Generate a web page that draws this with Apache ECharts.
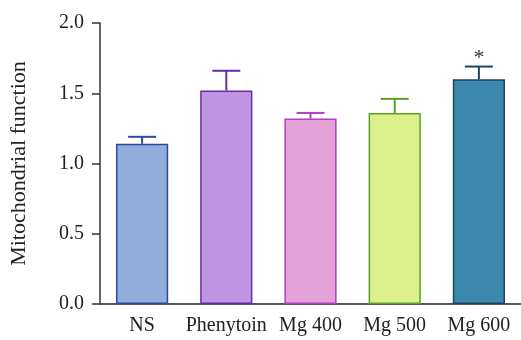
<!DOCTYPE html>
<html><head><meta charset="utf-8">
<script src="https://cdn.jsdelivr.net/npm/echarts@6/dist/echarts.min.js"></script>
<style>html,body{margin:0;padding:0;background:#fff}#c{width:521px;height:340px}</style>
</head><body><div id="c"></div>
<script>
const categories = ["NS", "Phenytoin", "Mg 400", "Mg 500", "Mg 600"];
const means = [1.14, 1.52, 1.32, 1.36, 1.60];
const errors = [0.05, 0.14, 0.04, 0.10, 0.09];
const significance = ["", "", "", "", "*"];
const yTicks = [0, 0.5, 1.0, 1.5, 2.0];
const fills = ["#92acdc", "#bf94e0", "#e5a2d9", "#dcf08c", "#3a88ad"];
const borders = ["#2f4a9a", "#6a2aa8", "#b040c0", "#5aa02a", "#1f435e"];

const FONT = "'Liberation Serif', 'Times New Roman', serif";
const chart = echarts.init(document.getElementById('c'), null, {renderer: 'canvas'});
chart.setOption({
  animation: false,
  grid: {left: 100, right: -1, top: 23, bottom: 36},
  xAxis: {
    type: 'category', data: categories,
    axisLine: {lineStyle: {color: '#555', width: 2}},
    axisTick: {alignWithLabel: true, length: 8, lineStyle: {color: '#333', width: 2}},
    axisLabel: {color: '#222', fontFamily: FONT, fontSize: 20, margin: 12, interval: 0}
  },
  yAxis: {
    type: 'value', min: yTicks[0], max: yTicks[yTicks.length - 1], interval: 0.5,
    name: 'Mitochondrial function', nameLocation: 'middle', nameGap: 70,
    nameTextStyle: {color: '#222', fontFamily: FONT, fontSize: 22},
    axisLine: {show: true, lineStyle: {color: '#333', width: 1.5}},
    axisTick: {show: true, length: 8, lineStyle: {color: '#333', width: 1.5}},
    splitLine: {show: false},
    axisLabel: {color: '#222', fontFamily: FONT, fontSize: 20, margin: 16,
      formatter: v => v.toFixed(1)}
  },
  series: [{
    type: 'bar', barWidth: '62%',
    data: means.map((v, i) => ({value: v, itemStyle: {color: fills[i], borderColor: borders[i], borderWidth: 1.5}})),
    z: 2
  }, {
    type: 'custom', z: 3,
    data: means.map((v, i) => [i, v, errors[i], significance[i]]),
    renderItem: function (params, api) {
      const i = api.value(0);
      const top = api.coord([i, api.value(1)]);
      const hi = api.coord([i, api.value(1) + api.value(2)]);
      const half = 14;
      const col = borders[i];
      const children = [
        {type: 'line', shape: {x1: top[0], y1: top[1], x2: hi[0], y2: hi[1]}, style: {stroke: col, lineWidth: 2}},
        {type: 'line', shape: {x1: hi[0] - half, y1: hi[1], x2: hi[0] + half, y2: hi[1]}, style: {stroke: col, lineWidth: 2}}
      ];
      const s = significance[i];
      if (s) {
        children.push({type: 'text', style: {text: s, x: hi[0], y: hi[1] + 3, align: 'center', verticalAlign: 'bottom',
          font: '22px ' + FONT, fill: '#333'}});
      }
      return {type: 'group', children: children};
    }
  }]
});
</script></body></html>
